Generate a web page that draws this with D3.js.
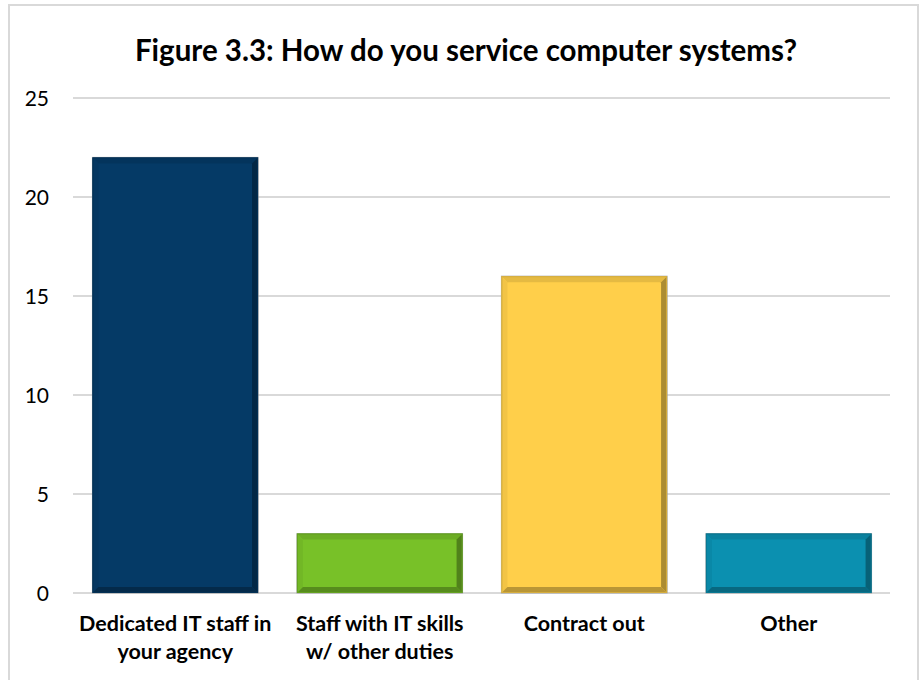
<!DOCTYPE html>
<html>
<head>
<meta charset="utf-8">
<script src="https://cdn.jsdelivr.net/npm/d3@7"></script>
<style>
  body { margin: 0; background: #fff; }
  svg { display: block; font-family: Lato, 'Open Sans', sans-serif; }
</style>
</head>
<body>
<svg width="920" height="680"></svg>
<script>
const width = 920;
const height = 680;

const categories = [
    ['Dedicated IT staff in', 'your agency'],
    ['Staff with IT skills', 'w/ other duties'],
    ['Contract out'],
    ['Other']
];
const values = [22, 3, 16, 3];
const colors = ['#053a66', '#78c128', '#ffcf4a', '#0b90b0'];
const yTicks = [0, 5, 10, 15, 20, 25];

const svg = d3.select('svg');

// outer chart border
svg.append('rect')
    .attr('x', 9)
    .attr('y', 5)
    .attr('width', 909)
    .attr('height', 690)
    .attr('fill', 'none')
    .attr('stroke', '#d9d9d9')
    .attr('stroke-width', 2);

const xScale = d3.scaleBand()
    .domain(d3.range(values.length))
    .range([73, 891])
    .paddingInner(0.19)
    .paddingOuter(0.095);

const yScale = d3.scaleLinear()
    .domain([0, 25])
    .range([593, 98]);

// gridlines
svg.append('g')
    .selectAll('line')
    .data(yTicks)
    .enter()
    .append('line')
        .attr('x1', 73)
        .attr('x2', 890)
        .attr('y1', (d) => yScale(d))
        .attr('y2', (d) => yScale(d))
        .attr('stroke', '#d9d9d9')
        .attr('stroke-width', 2);

const yAxis = d3.axisLeft(yScale)
    .tickValues(yTicks)
    .tickSize(0)
    .tickPadding(0);

svg.append('g')
    .attr('transform', 'translate(49, 0)')
    .call(yAxis)
    .call((g) => g.select('.domain').remove())
    .selectAll('text')
        .attr('font-family', 'Lato, sans-serif')
        .attr('font-size', 21)
        .attr('fill', '#000')
        .attr('dy', '0.35em');

// bars with bevel
const bevel = 6;
const bars = svg.append('g')
    .selectAll('g')
    .data(values)
    .enter()
    .append('g');

bars.each(function (d, i) {
    const g = d3.select(this);
    const x0 = xScale(i);
    const x1 = x0 + xScale.bandwidth();
    const y0 = yScale(d);
    const y1 = yScale(0);
    const c = colors[i];
    g.append('rect')
        .attr('x', x0)
        .attr('y', y0)
        .attr('width', x1 - x0)
        .attr('height', y1 - y0)
        .attr('fill', c)
        .attr('stroke', '#a6a6a6')
        .attr('stroke-width', 1);
    const bands = [
        { pts: [[x0, y0], [x1, y0], [x1 - bevel, y0 + bevel], [x0 + bevel, y0 + bevel]], fill: d3.color(c).darker(0.3) },
        { pts: [[x0, y0], [x0 + bevel, y0 + bevel], [x0 + bevel, y1 - bevel], [x0, y1]], fill: d3.color(c).darker(0.15) },
        { pts: [[x1, y0], [x1, y1], [x1 - bevel, y1 - bevel], [x1 - bevel, y0 + bevel]], fill: d3.color(c).darker(1.1) },
        { pts: [[x0, y1], [x0 + bevel, y1 - bevel], [x1 - bevel, y1 - bevel], [x1, y1]], fill: d3.color(c).darker(0.9) }
    ];
    g.selectAll('polygon')
        .data(bands)
        .enter()
        .append('polygon')
            .attr('points', (b) => b.pts.map((p) => p.join(',')).join(' '))
            .attr('fill', (b) => b.fill);
    g.append('rect')
        .attr('x', x0 + 0.5)
        .attr('y', y0 + 0.5)
        .attr('width', x1 - x0 - 1)
        .attr('height', y1 - y0 - 1)
        .attr('fill', 'none')
        .attr('stroke', d3.color(c).darker(0.5))
        .attr('stroke-width', 1);
});

// category labels
const labels = svg.append('g')
    .selectAll('text')
    .data(categories)
    .enter()
    .append('text')
        .attr('x', (d, i) => xScale(i) + xScale.bandwidth() / 2)
        .attr('y', 631)
        .attr('text-anchor', 'middle')
        .attr('font-size', 21.5)
        .attr('font-weight', 'bold')
        .attr('fill', '#000');

labels.selectAll('tspan')
    .data((d) => d)
    .enter()
    .append('tspan')
        .attr('x', function () { return d3.select(this.parentNode).attr('x'); })
        .attr('dy', (d, j) => j === 0 ? 0 : 28)
        .text((d) => d);

svg.append('text')
    .attr('x', 466)
    .attr('y', 61)
    .attr('text-anchor', 'middle')
    .attr('font-size', 29.5)
    .attr('font-weight', 'bold')
    .attr('fill', '#000')
    .text('Figure 3.3: How do you service computer systems?');
</script>
</body>
</html>
